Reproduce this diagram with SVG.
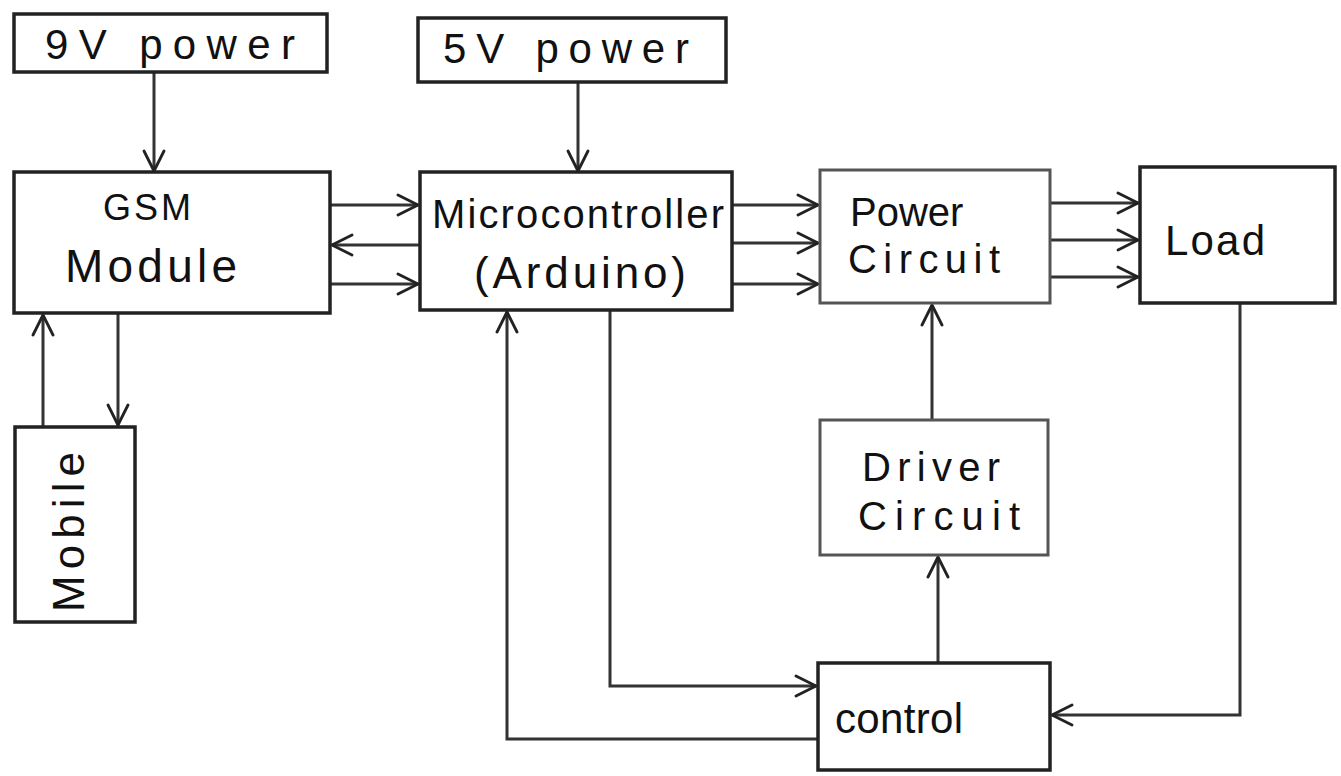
<svg xmlns="http://www.w3.org/2000/svg" width="1341" height="776" viewBox="0 0 1341 776">
<defs>
<marker id="arr" viewBox="0 0 26 26" refX="25" refY="13" markerWidth="26" markerHeight="26" markerUnits="userSpaceOnUse" orient="auto">
<path d="M5,3 L25,13 L5,23" fill="none" stroke="#222" stroke-width="2.8" stroke-linecap="round" stroke-linejoin="round"/>
</marker>
<style>
.box{fill:#fff;stroke:#222;stroke-width:3.5}
.lt{stroke:#555;stroke-width:3}
.t{font-family:"Liberation Sans","DejaVu Sans",sans-serif;fill:#111}
.c{fill:none;stroke:#333;stroke-width:3;marker-end:url(#arr)}
</style>
</defs>
<rect width="1341" height="776" fill="#fff"/>
<g id="connectors">
<path class="c" d="M154,73 V171"/>
<path class="c" d="M578,83 V171"/>
<path class="c" d="M331,205 H418"/>
<path class="c" d="M419,245 H332"/>
<path class="c" d="M331,284 H418"/>
<path class="c" d="M733,205 H818"/>
<path class="c" d="M733,243 H818"/>
<path class="c" d="M733,284 H818"/>
<path class="c" d="M1051,203 H1138"/>
<path class="c" d="M1051,240 H1138"/>
<path class="c" d="M1051,277 H1138"/>
<path class="c" d="M118,314 V425"/>
<path class="c" d="M43,427 V315"/>
<path class="c" d="M610,311 V686 H816"/>
<path class="c" d="M817,739 H507 V312"/>
<path class="c" d="M932,419 V305"/>
<path class="c" d="M938,662 V557"/>
<path class="c" d="M1240,304 V715 H1052"/>
</g>
<g id="n9v"><rect class="box" x="14" y="14" width="313" height="58"/><text class="t" x="45" y="59" font-size="42" textLength="250">9V power</text></g>
<g id="n5v"><rect class="box" x="418" y="18" width="308" height="64"/><text class="t" x="443" y="63" font-size="42" textLength="246">5V power</text></g>
<g id="gsm"><rect class="box" x="14" y="172" width="316" height="141"/><text class="t" x="103" y="220" font-size="36" textLength="88">GSM</text><text class="t" x="65" y="282" font-size="46" textLength="172">Module</text></g>
<g id="mcu"><rect class="box" x="420" y="172" width="312" height="138"/><text class="t" x="432" y="228" font-size="40" textLength="292">Microcontroller</text><text class="t" x="474" y="288" font-size="44" textLength="212">(Arduino)</text></g>
<g id="power"><rect class="box lt" x="820" y="170" width="230" height="133"/><text class="t" x="850" y="226" font-size="40">Power</text><text class="t" x="848" y="273" font-size="40" textLength="152">Circuit</text></g>
<g id="load"><rect class="box" x="1140" y="167" width="195" height="136"/><text class="t" x="1165" y="255" font-size="42" textLength="100">Load</text></g>
<g id="driver"><rect class="box lt" x="820" y="420" width="228" height="135"/><text class="t" x="862" y="481" font-size="40" textLength="138">Driver</text><text class="t" x="858" y="530" font-size="40" textLength="162">Circuit</text></g>
<g id="control"><rect class="box" x="818" y="663" width="232" height="107"/><text class="t" x="835" y="733" font-size="42" textLength="128">control</text></g>
<g id="mobile"><rect class="box" x="15" y="427" width="120" height="195"/><text class="t" x="0" y="0" font-size="44" textLength="160" transform="translate(84,612) rotate(-90)">Mobile</text></g>
</svg>
